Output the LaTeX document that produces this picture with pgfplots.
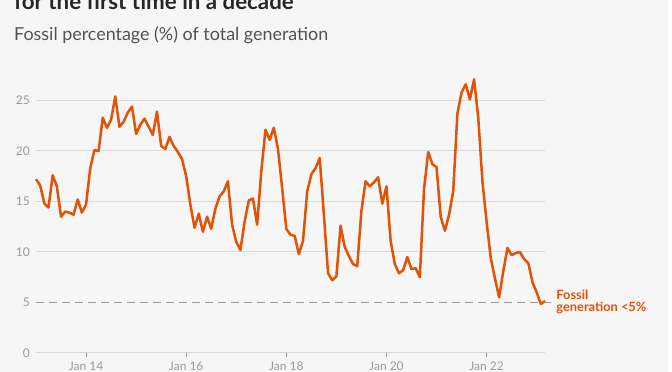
\documentclass[border=0pt]{standalone}
\usepackage{pgfplots}
\pgfplotsset{compat=1.18}
\usepackage{fontspec}
\setmainfont{Lato}
\definecolor{bg}{HTML}{F6F6F6}
\definecolor{lineor}{HTML}{E35205}
\definecolor{gridc}{HTML}{DADADA}
\definecolor{tickc}{HTML}{9A9A9A}
\begin{document}
\begin{tikzpicture}[x=1pt,y=1pt]
\useasboundingbox (0,0) rectangle (672,372);
\fill[white] (0,0) rectangle (672,372);
\fill[bg] (0,0) rectangle (668,372);
\node[anchor=base west, inner sep=0, font=\fontsize{22.3}{26}\selectfont\bfseries, text=black!85] at (14,362.5) {for the first time in a decade};
\node[anchor=base west, inner sep=0, font=\fontsize{17.9}{20}\selectfont, text=black!68] at (14,331.5) {Fossil percentage (\%) of total generation};
\begin{axis}[at={(36pt,19pt)}, anchor=south west, scale only axis,
  width=509pt, height=282.8pt,
  xmin=0, xmax=122, ymin=0, ymax=28,
  clip=false,
  axis line style={draw=none},
  ytick={0,10,15,20,25},
  extra y ticks={5},
  extra y tick style={ymajorgrids=false},
  ymajorgrids,
  major grid style={gridc, line width=1pt},
  ytick style={draw=none},
  xtick={12,36,60,84,108},
  xticklabels={Jan 14,Jan 16,Jan 18,Jan 20,Jan 22},
  xtick pos=bottom, xtick align=outside,
  major tick length=4pt,
  xtick style={tickc, line width=0.8pt},
  tick label style={font=\fontsize{12}{13}\selectfont, text=tickc},
  yticklabel style={inner sep=0pt, xshift=-6pt},
  xticklabel style={anchor=base, inner sep=0pt, yshift=-14pt},
  /pgf/number format/assume math mode=true,
]
\addplot[tickc, line width=1pt, dash pattern=on 8pt off 5pt] coordinates {(0,5) (124,5)};
\addplot[lineor, line width=2.5pt, line join=round] coordinates {
(0,17.2) (1,16.6) (2,14.8) (3,14.4) (4,17.6) (5,16.5) (6,13.5) (7,14.0) (8,13.9) (9,13.7)
(10,15.2) (11,13.9) (12,14.7) (13,18.3) (14,20.1) (15,20.0) (16,23.3) (17,22.3) (18,23.1) (19,25.4)
(20,22.4) (21,22.9) (22,23.8) (23,24.4) (24,21.7) (25,22.6) (26,23.2) (27,22.4) (28,21.6) (29,23.9)
(30,20.5) (31,20.2) (32,21.4) (33,20.5) (34,19.9) (35,19.2) (36,17.5) (37,14.7) (38,12.4) (39,13.8)
(40,12.0) (41,13.5) (42,12.3) (43,14.3) (44,15.5) (45,16.0) (46,17.0) (47,12.7) (48,11.0) (49,10.2)
(50,13.0) (51,15.1) (52,15.3) (53,12.7) (54,18.0) (55,22.1) (56,21.1) (57,22.3) (58,20.2) (59,16.3)
(60,12.3) (61,11.7) (62,11.6) (63,9.8) (64,11.1) (65,16.0) (66,17.7) (67,18.3) (68,19.3) (69,13.7)
(70,7.9) (71,7.2) (72,7.6) (73,12.6) (74,10.5) (75,9.6) (76,8.8) (77,8.6) (78,14.1) (79,17.0)
(80,16.5) (81,16.9) (82,17.4) (83,14.8) (84,16.5) (85,11.1) (86,8.8) (87,7.9) (88,8.2) (89,9.5)
(90,8.3) (91,8.4) (92,7.5) (93,16.2) (94,19.9) (95,18.7) (96,18.4) (97,13.5) (98,12.1) (99,13.7)
(100,16.0) (101,23.7) (102,25.8) (103,26.6) (104,25.1) (105,27.1) (106,23.3) (107,17.0) (108,13.0) (109,9.4)
(110,7.4) (111,5.5) (112,8.1) (113,10.4) (114,9.7) (115,9.9) (116,10.0) (117,9.3) (118,8.9) (119,7.0)
(120,6.0) (121,4.85) (122,5.15)
};
\node[anchor=base west, inner sep=0, text=lineor, font=\fontsize{12.8}{13}\selectfont\bfseries] at (axis cs:124.7,5.25) {Fossil};
\node[anchor=base west, inner sep=0, text=lineor, font=\fontsize{12.8}{13}\selectfont\bfseries] at (axis cs:124.7,4.15) {generation <5\%};
\end{axis}
\end{tikzpicture}
\end{document}
